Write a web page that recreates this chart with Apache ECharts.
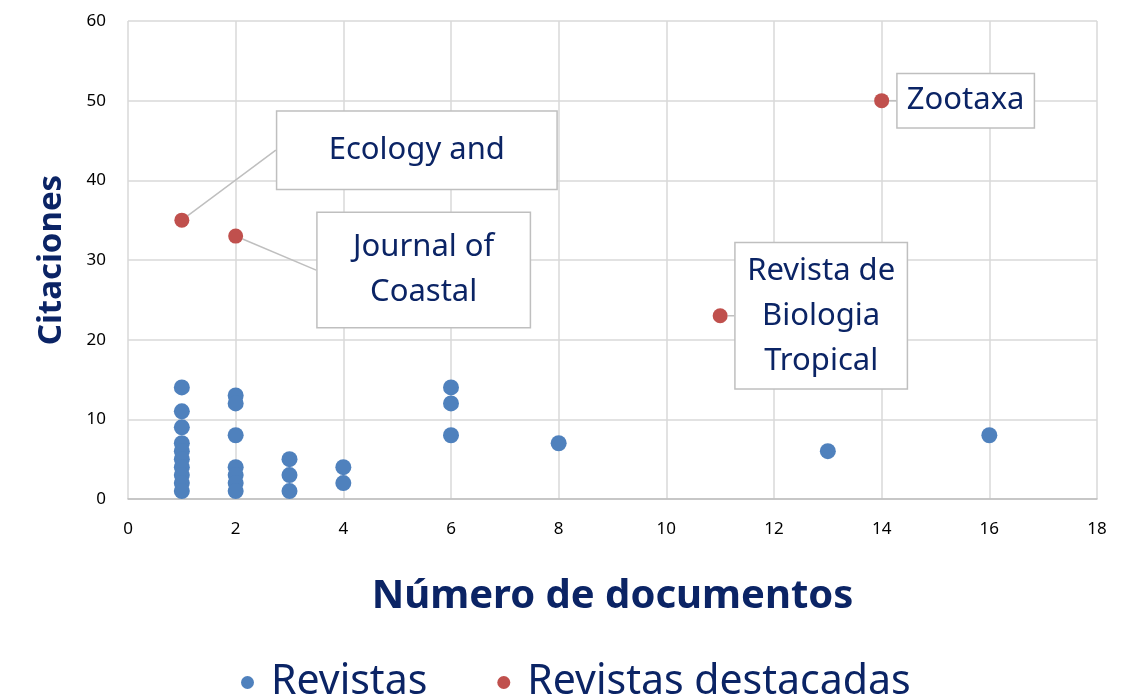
<!DOCTYPE html>
<html>
<head>
<meta charset="utf-8">
<script src="https://cdn.jsdelivr.net/npm/echarts@6/dist/echarts.min.js"></script>
<style>
html, body { margin: 0; padding: 0; background: #fff; }
#chart { width: 1131px; height: 698px; }
</style>
</head>
<body>
<div id="chart"></div>
<script>
// datos
var revistasX = [1, 1, 1, 1, 1, 1, 1, 1, 1, 1, 2, 2, 2, 2, 2, 2, 2, 3, 3, 3, 4, 4, 6, 6, 6, 8, 13, 16];
var revistasY = [14, 11, 9, 7, 6, 5, 4, 3, 2, 1, 13, 12, 8, 4, 3, 2, 1, 5, 3, 1, 4, 2, 14, 12, 8, 7, 6, 8];

var destacadasNombres = ['Ecology and', 'Journal of\nCoastal', 'Revista de\nBiologia\nTropical', 'Zootaxa'];
var destacadasX = [1, 2, 11, 14];
var destacadasY = [35, 33, 23, 50];

// desplazamiento de las etiquetas respecto al punto, y tamaño de la caja
var etiquetaDx = [235, 188, 101, 84];
var etiquetaDy = [-70, 34, 0, 0];
var etiquetaAncho = [279, 212, 171, 136];
var etiquetaPad = [16, 12, 5, 4];

var navy = '#0b2465';
var fuente = 'Noto Sans';

var chartDom = document.getElementById('chart');
var myChart = echarts.init(chartDom);

var datosRevistas = revistasX.map(function (x, i) {
	return [x, revistasY[i]];
});

var datosDestacadas = destacadasX.map(function (x, i) {
	return {
		name: destacadasNombres[i],
		value: [x, destacadasY[i]],
		label: {
			width: etiquetaAncho[i],
			padding: [etiquetaPad[i], 0]
		}
	};
});

var option = {
	animation: false,
	textStyle: { fontFamily: fuente },
	grid: {
		left: 128,
		right: 34,
		top: 21,
		bottom: 199
	},
	legend: {
		bottom: -10,
		left: 236,
		icon: 'circle',
		itemWidth: 13,
		itemHeight: 13,
		itemGap: 70,
		textStyle: { fontSize: 41, color: navy, fontFamily: fuente, padding: [0, 0, 0, 12] },
		data: ['Revistas', 'Revistas destacadas']
	},
	xAxis: {
		type: 'value',
		min: 0,
		max: 18,
		interval: 2,
		name: 'Número de documentos',
		nameLocation: 'middle',
		nameGap: 78,
		nameTextStyle: { fontSize: 40, fontWeight: 'bold', color: navy, fontFamily: fuente },
		axisLine: { show: true, lineStyle: { color: '#bfbfbf', width: 1.5 } },
		axisTick: { show: false },
		axisLabel: { fontSize: 17, color: '#000', margin: 22 },
		splitLine: { show: true, lineStyle: { color: '#d9d9d9', width: 1.5 } }
	},
	yAxis: {
		type: 'value',
		min: 0,
		max: 60,
		interval: 10,
		name: 'Citaciones',
		nameLocation: 'middle',
		nameGap: 60,
		nameTextStyle: { fontSize: 33, fontWeight: 'bold', color: navy, fontFamily: fuente },
		axisLine: { show: false },
		axisTick: { show: false },
		axisLabel: { fontSize: 17, color: '#000', margin: 22 },
		splitLine: { show: true, lineStyle: { color: '#d9d9d9', width: 1.5 } }
	},
	series: [{
		name: 'Revistas',
		type: 'scatter',
		symbolSize: 16,
		itemStyle: { color: '#4f81bd', opacity: 1 },
		data: datosRevistas
	}, {
		name: 'Revistas destacadas',
		type: 'scatter',
		symbolSize: 15,
		itemStyle: { color: '#c0504d', opacity: 1 },
		label: {
			show: true,
			position: 'inside',
			formatter: '{b}',
			align: 'center',
			verticalAlign: 'middle',
			fontSize: 31,
			lineHeight: 45,
			color: navy,
			fontFamily: fuente,
			backgroundColor: '#fff',
			borderColor: '#bfbfbf',
			borderWidth: 1.5
		},
		labelLine: {
			show: true,
			lineStyle: { color: '#bfbfbf', width: 1.5 }
		},
		labelLayout: function (params) {
			return {
				dx: etiquetaDx[params.dataIndex],
				dy: etiquetaDy[params.dataIndex]
			};
		},
		data: datosDestacadas
	}]
};

myChart.setOption(option);
</script>
</body>
</html>
